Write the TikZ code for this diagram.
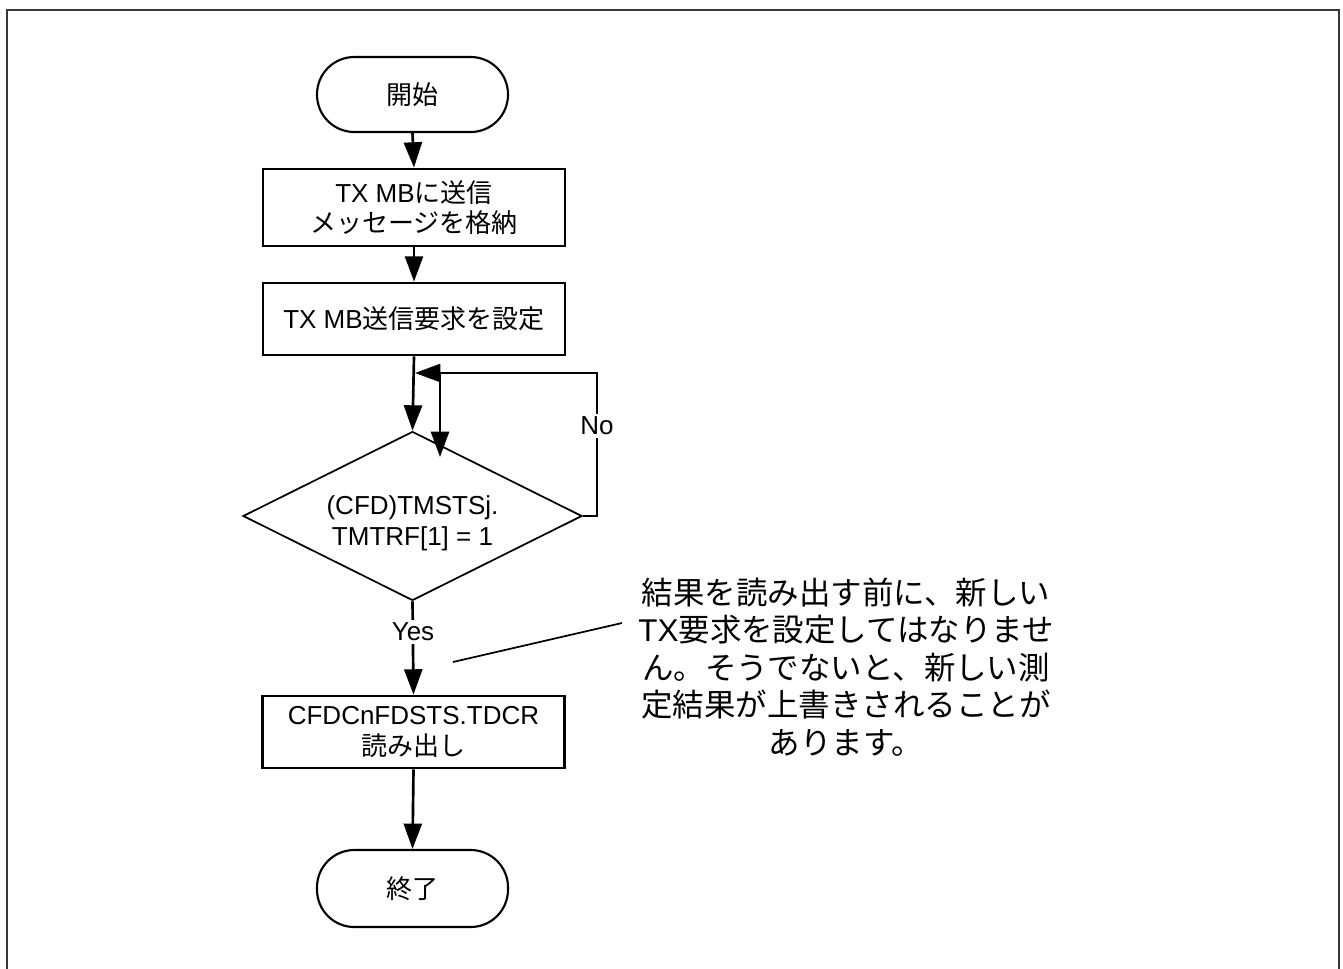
\documentclass[tikz,border=0pt]{standalone}
\usepackage{fontspec}
\setmainfont{Liberation Sans}
\newfontfamily\cjk{Noto Sans CJK JP}
\usetikzlibrary{arrows.meta,shapes.geometric}
\begin{document}
\begin{tikzpicture}[x=0.75pt,y=-0.75pt,
  every node/.style={font=\fontsize{19.5pt}{23pt}\selectfont, align=center, inner sep=0pt},
  term/.style={draw, line width=1.6pt, minimum width=143.25pt, minimum height=56.25pt, rounded corners=28pt},
  procbox/.style={draw, line width=2.1pt, minimum width=226.5pt},
  decision/.style={draw, diamond, line width=1.3pt, minimum width=254.25pt, minimum height=126.75pt, inner sep=0pt},
  arr/.style={line width=2pt, -{Triangle[length=19pt,width=13.5pt]}},
  lbl/.style={fill=white, inner sep=2pt},
  note/.style={font=\fontsize{23.6pt}{28.2pt}\selectfont\cjk, align=center}
]
\useasboundingbox (0,0) rectangle (1343,968);
% frame
\draw[line width=2pt, color=black!78] (7,975) -- (7,10) -- (1339,10) -- (1339,975);

\node[term] (start) at (412.5,94.5) {\cjk 開始};
\node[procbox, minimum height=57.75pt] (box1) at (414,207.5) {TX MB{\cjk に送信}\\{\cjk メッセージを格納}};
\node[procbox, minimum height=54pt] (box2) at (414,319) {TX MB{\cjk 送信要求を設定}};
\node[decision] (dia) at (412.5,516) {};
\node (diatxt) at (412.5,523) {(CFD)TMSTSj.\\TMTRF[1] = 1};
\node[procbox, minimum height=54pt] (box3) at (413.5,732) {CFDCnFDSTS.TDCR\\{\cjk 読み出し}};
\node[term, minimum height=57.75pt] (finish) at (412.5,888.5) {\cjk 終了};

\draw[arr] (start.south) -- (box1.north);
\draw[arr] (box1.south) -- (box2.north);
\draw[arr] (box2.south) -- (dia.north);

% No loop
\coordinate (noR) at (597,373);
\coordinate (loopL) at (415,373);
\coordinate (loopM) at (440,373);
\coordinate (loopT) at (440,457);
\draw[arr] (dia.east) -| (noR) -- (loopL);
\draw[arr] (loopM) -- (loopT);
\node[lbl] (no) at (597,426) {No};

% Yes
\draw[arr] (dia.south) -- (box3.north);
\node[lbl] (yes) at (413,632) {Yes};

\draw[arr] (box3.south) -- (finish.north);

% annotation
\node[note] (anno) at (846,667) {結果を読み出す前に、新しい\\{\fontspec{Liberation Sans}TX}要求を設定してはなりませ\\ん。そうでないと、新しい測\\定結果が上書きされることが\\あります。};
\coordinate (ptrA) at (453,662);
\coordinate (ptrB) at (622,623);
\draw[line width=1.3pt] (ptrA) -- (ptrB);
\end{tikzpicture}
\end{document}
